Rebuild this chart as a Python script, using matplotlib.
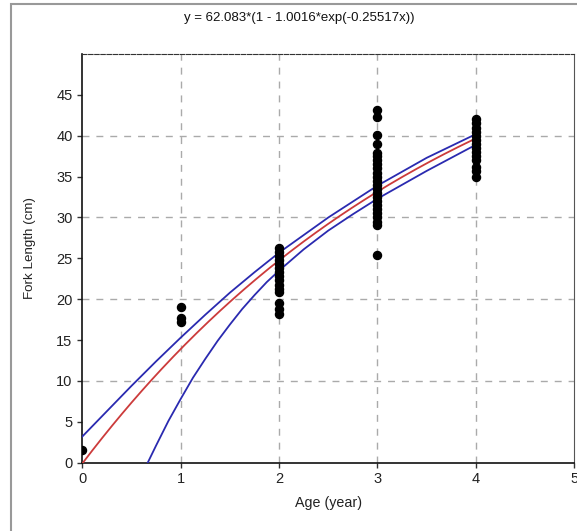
import numpy as np
import matplotlib
matplotlib.use("Agg")
import matplotlib.pyplot as plt
from matplotlib.patches import Rectangle

plt.rcParams['font.family'] = ['Liberation Sans', 'DejaVu Sans']

# fitted von Bertalanffy parameters (from the title)
Linf = 62.083
k_ = 1.0016
K = 0.25517

# observed fork lengths per age
age0 = [1.5]
age1 = [19.0, 17.7, 17.2]
age2 = [26.3, 25.8, 25.3, 24.8, 24.3, 23.8, 23.3, 22.8, 22.3, 21.8, 21.3, 20.9,
        19.5, 18.8, 18.2]
age3 = [43.1, 42.3, 40.1, 39.0, 37.9, 37.5, 37.0, 36.5, 36.0, 35.5, 35.0, 34.5,
        34.0, 33.5, 33.0, 32.5, 32.0, 31.5, 31.0, 30.5, 30.0, 29.5, 29.1, 25.4]
age4 = [42.0, 41.5, 41.0, 40.5, 40.0, 39.5, 39.0, 38.5, 38.0, 37.5, 37.0,
        36.2, 35.7, 35.0]

# confidence band
upper_x = [0, 0.25, 0.5, 0.75, 1, 1.25, 1.5, 1.75, 2, 2.5, 3, 3.5, 4]
upper_y = [3.2, 6.3, 9.4, 12.4, 15.3, 18.1, 20.8, 23.3, 25.7, 30.0, 33.9, 37.3, 40.2]
lower_x = [0.665, 0.75, 0.875, 1, 1.125, 1.25, 1.375, 1.5, 1.625, 1.75, 1.875,
           2, 2.25, 2.5, 2.75, 3, 3.5, 4]
lower_y = [0, 2.1, 5.1, 7.8, 10.4, 12.7, 14.9, 16.9, 18.8, 20.5, 22.1,
           23.5, 26.1, 28.4, 30.4, 32.3, 35.7, 38.9]

fig = plt.figure(figsize=(5.77, 5.31), dpi=100)
ax = fig.add_axes([0.1426, 0.1286, 0.8527, 0.7697])

# grid only every 10 cm / every year
for yv in [10, 20, 30, 40]:
    ax.axhline(yv, color='#aaaaaa', lw=1, ls=(0, (5, 5)), zorder=0)
for xv in [1, 2, 3, 4]:
    ax.axvline(xv, color='#aaaaaa', lw=1, ls=(0, (5, 5)), zorder=0)

xs = np.linspace(0, 4, 200)
ax.plot(xs, Linf * (1 - k_ * np.exp(-K * xs)), color='#cc3b3b', lw=1.3, zorder=3)
ax.plot(upper_x, upper_y, color='#2a2ab0', lw=1.3, zorder=3)
ax.plot(lower_x, lower_y, color='#2a2ab0', lw=1.3, zorder=3)

for a, vals in enumerate([age0, age1, age2, age3, age4]):
    ax.plot([a] * len(vals), vals, 'o', color='black', ms=5.8, zorder=4)

ax.set_xlim(0, 5)
ax.set_ylim(0, 50)
ax.set_xticks([0, 1, 2, 3, 4, 5])
ax.set_yticks(range(0, 50, 5))
ax.tick_params(labelsize=10.5, length=3.5, width=1, color='#333333',
               labelcolor='#222222')

ax.spines['left'].set_color('#111111')
ax.spines['bottom'].set_color('#111111')
ax.spines['left'].set_linewidth(1.2)
ax.spines['bottom'].set_linewidth(1.2)
ax.spines['top'].set_color('#333333')
ax.spines['top'].set_linestyle((0, (4, 1.5)))
ax.spines['right'].set_color('#555555')

fig.text(0.518, 0.967, 'y = 62.083*(1 - 1.0016*exp(-0.25517x))',
         ha='center', va='center', fontsize=9.5, color='#111111')
fig.text(0.570, 0.053, 'Age (year)', ha='center', va='center',
         fontsize=10.3, color='#222222')
fig.text(0.052, 0.533, 'Fork Length (cm)', ha='center', va='center',
         rotation=90, fontsize=9.6, color='#222222')

# outer frame of the original figure
fig.patches.append(Rectangle((0.019, -0.1), 1.1, 0.9925 + 0.1,
                             transform=fig.transFigure, fill=False,
                             edgecolor='#999999', lw=1.5))

fig.savefig('out.png', dpi=100)
